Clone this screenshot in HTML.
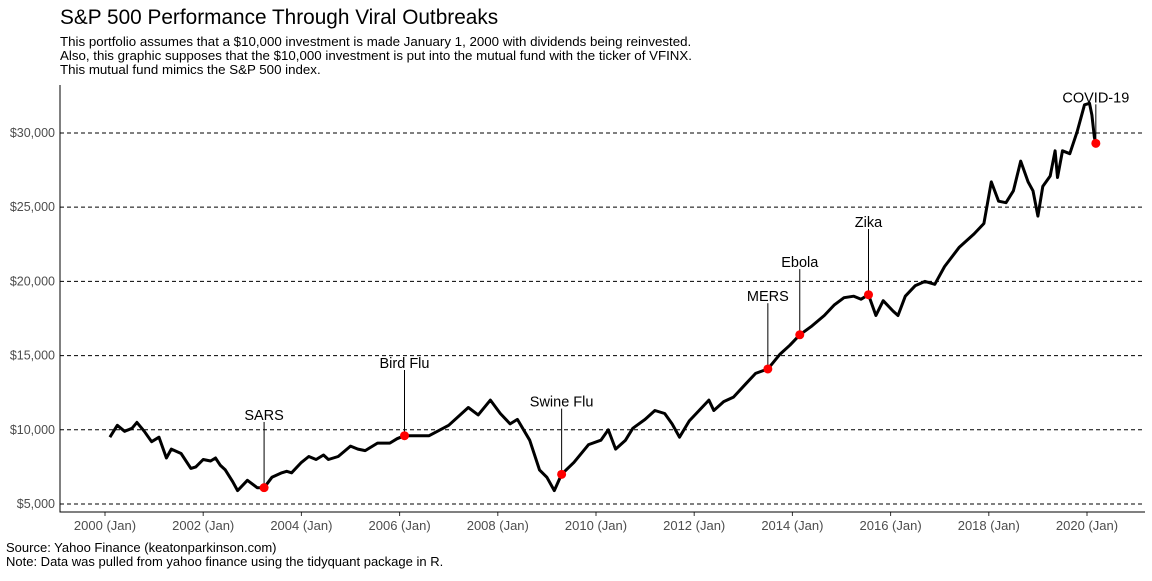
<!DOCTYPE html>
<html><head><meta charset="utf-8"><style>
body{margin:0;background:#fff;font-family:"Liberation Sans",sans-serif}
svg text{font-family:"Liberation Sans",sans-serif}
</style></head><body>
<svg width="1152" height="576">
<text x="60" y="24" font-size="20.8" fill="#000">S&amp;P 500 Performance Through Viral Outbreaks</text>
<g font-size="13.3" fill="#000">
<text x="60" y="46">This portfolio assumes that a $10,000 investment is made January 1, 2000 with dividends being reinvested.</text>
<text x="60" y="60">Also, this graphic supposes that the $10,000 investment is put into the mutual fund with the ticker of VFINX.</text>
<text x="60" y="74">This mutual fund mimics the S&amp;P 500 index.</text>
</g>
<g id="grid"></g><g id="axes"></g><g id="series"></g><g id="ann"></g>
<g font-size="13" fill="#000">
<text x="6" y="552">Source: Yahoo Finance (keatonparkinson.com)</text>
<text x="6" y="566">Note: Data was pulled from yahoo finance using the tidyquant package in R.</text>
</g>
</svg>
<script>
const dates=[2000.1,2000.25,2000.4,2000.55,2000.65,2000.8,2000.95,2001.1,2001.25,2001.35,2001.55,2001.75,2001.85,2002.0,2002.15,2002.25,2002.35,2002.45,2002.6,2002.7,2002.9,2003.1,2003.24,2003.4,2003.6,2003.7,2003.8,2004.0,2004.15,2004.3,2004.45,2004.55,2004.75,2005.0,2005.15,2005.3,2005.4,2005.55,2005.8,2005.95,2006.1,2006.6,2007.0,2007.4,2007.6,2007.85,2008.05,2008.25,2008.4,2008.65,2008.85,2009.0,2009.15,2009.3,2009.55,2009.85,2010.1,2010.25,2010.4,2010.6,2010.75,2011.0,2011.2,2011.4,2011.55,2011.7,2011.9,2012.1,2012.3,2012.4,2012.6,2012.8,2013.05,2013.25,2013.5,2013.75,2013.95,2014.15,2014.4,2014.65,2014.85,2015.05,2015.25,2015.4,2015.55,2015.7,2015.85,2016.05,2016.15,2016.3,2016.5,2016.7,2016.9,2017.1,2017.4,2017.7,2017.9,2018.05,2018.2,2018.35,2018.5,2018.65,2018.8,2018.9,2019.0,2019.1,2019.25,2019.35,2019.4,2019.5,2019.65,2019.8,2019.95,2020.05,2020.1,2020.15,2020.18];
const values=[9500,10300,9900,10100,10500,9900,9200,9500,8100,8700,8400,7400,7500,8000,7900,8100,7600,7300,6500,5900,6600,6100,6100,6800,7100,7200,7100,7800,8200,8000,8300,8000,8200,8900,8700,8600,8800,9100,9100,9400,9600,9600,10300,11500,11000,12000,11100,10400,10700,9300,7300,6800,5900,7000,7800,9000,9300,10000,8700,9300,10100,10700,11300,11100,10400,9500,10600,11300,12000,11300,11900,12200,13100,13800,14100,15100,15700,16400,17000,17700,18400,18900,19000,18800,19100,17700,18700,18000,17700,19000,19700,20000,19800,21000,22300,23200,23900,26700,25400,25300,26100,28100,26700,26100,24400,26400,27100,28800,27000,28800,28600,30100,31900,32000,31200,29700,29300];
const yTicks=[5000,10000,15000,20000,25000,30000];
const xTicks=[2000,2002,2004,2006,2008,2010,2012,2014,2016,2018,2020];
const events=["SARS","Bird Flu","Swine Flu","MERS","Ebola","Zika","COVID-19"];
const eventDates=[2003.24,2006.1,2009.3,2013.5,2014.15,2015.55,2020.18];
const eventValues=[6100,9600,7000,14100,16400,19100,29300];
const labelValues=[11000,14500,11900,19000,21300,24000,32400];
const X=d=>105+(d-2000)*49.1, Y=v=>504-(v-5000)*0.014842;
const ns="http://www.w3.org/2000/svg";
function mk(p,t,a){const e=document.createElementNS(ns,t);for(const k in a)e.setAttribute(k,a[k]);document.getElementById(p).appendChild(e);return e;}
yTicks.forEach(v=>{
 const l=mk('grid','line',{x1:60,x2:1145,y1:Y(v),y2:Y(v),stroke:'#000','stroke-dasharray':'4,3'});
 
 
 const t=mk('axes','text',{x:55,y:Y(v)+4,'text-anchor':'end','font-size':12.5,fill:'#4d4d4d'});
 t.textContent='$'+v.toLocaleString('en-US');
 
 
});
xTicks.forEach(d=>{
 mk('axes','line',{x1:X(d),x2:X(d),y1:512,y2:516,stroke:'#333'});
 const t=mk('axes','text',{x:X(d),y:530,'text-anchor':'middle','font-size':13,fill:'#4d4d4d'});
 t.textContent=d+' (Jan)';
 
 
});
const ax=mk('axes','path',{d:'M60,85V512H1145',fill:'none',stroke:'#000','stroke-width':1});


const ln=mk('series','path',{d:dates.map((d,i)=>(i?'L':'M')+X(d).toFixed(1)+','+Y(values[i]).toFixed(1)).join(''),fill:'none',stroke:'#000','stroke-width':3,'stroke-linejoin':'round'});


events.forEach((n,i)=>{
 const x=X(eventDates[i]),ly=Y(labelValues[i]);
 const l=mk('ann','line',{x1:x,x2:x,y1:ly+7,y2:Y(eventValues[i]),stroke:'#000','stroke-width':1});
 
 
 const c=mk('ann','circle',{cx:x,cy:Y(eventValues[i]),r:4.5,fill:'#ff0000'});
 
 
 const t=mk('ann','text',{x:x,y:ly+5,'text-anchor':'middle','font-size':14.5,fill:'#000'});
 t.textContent=n;
 
 
});
</script>
</body></html>
